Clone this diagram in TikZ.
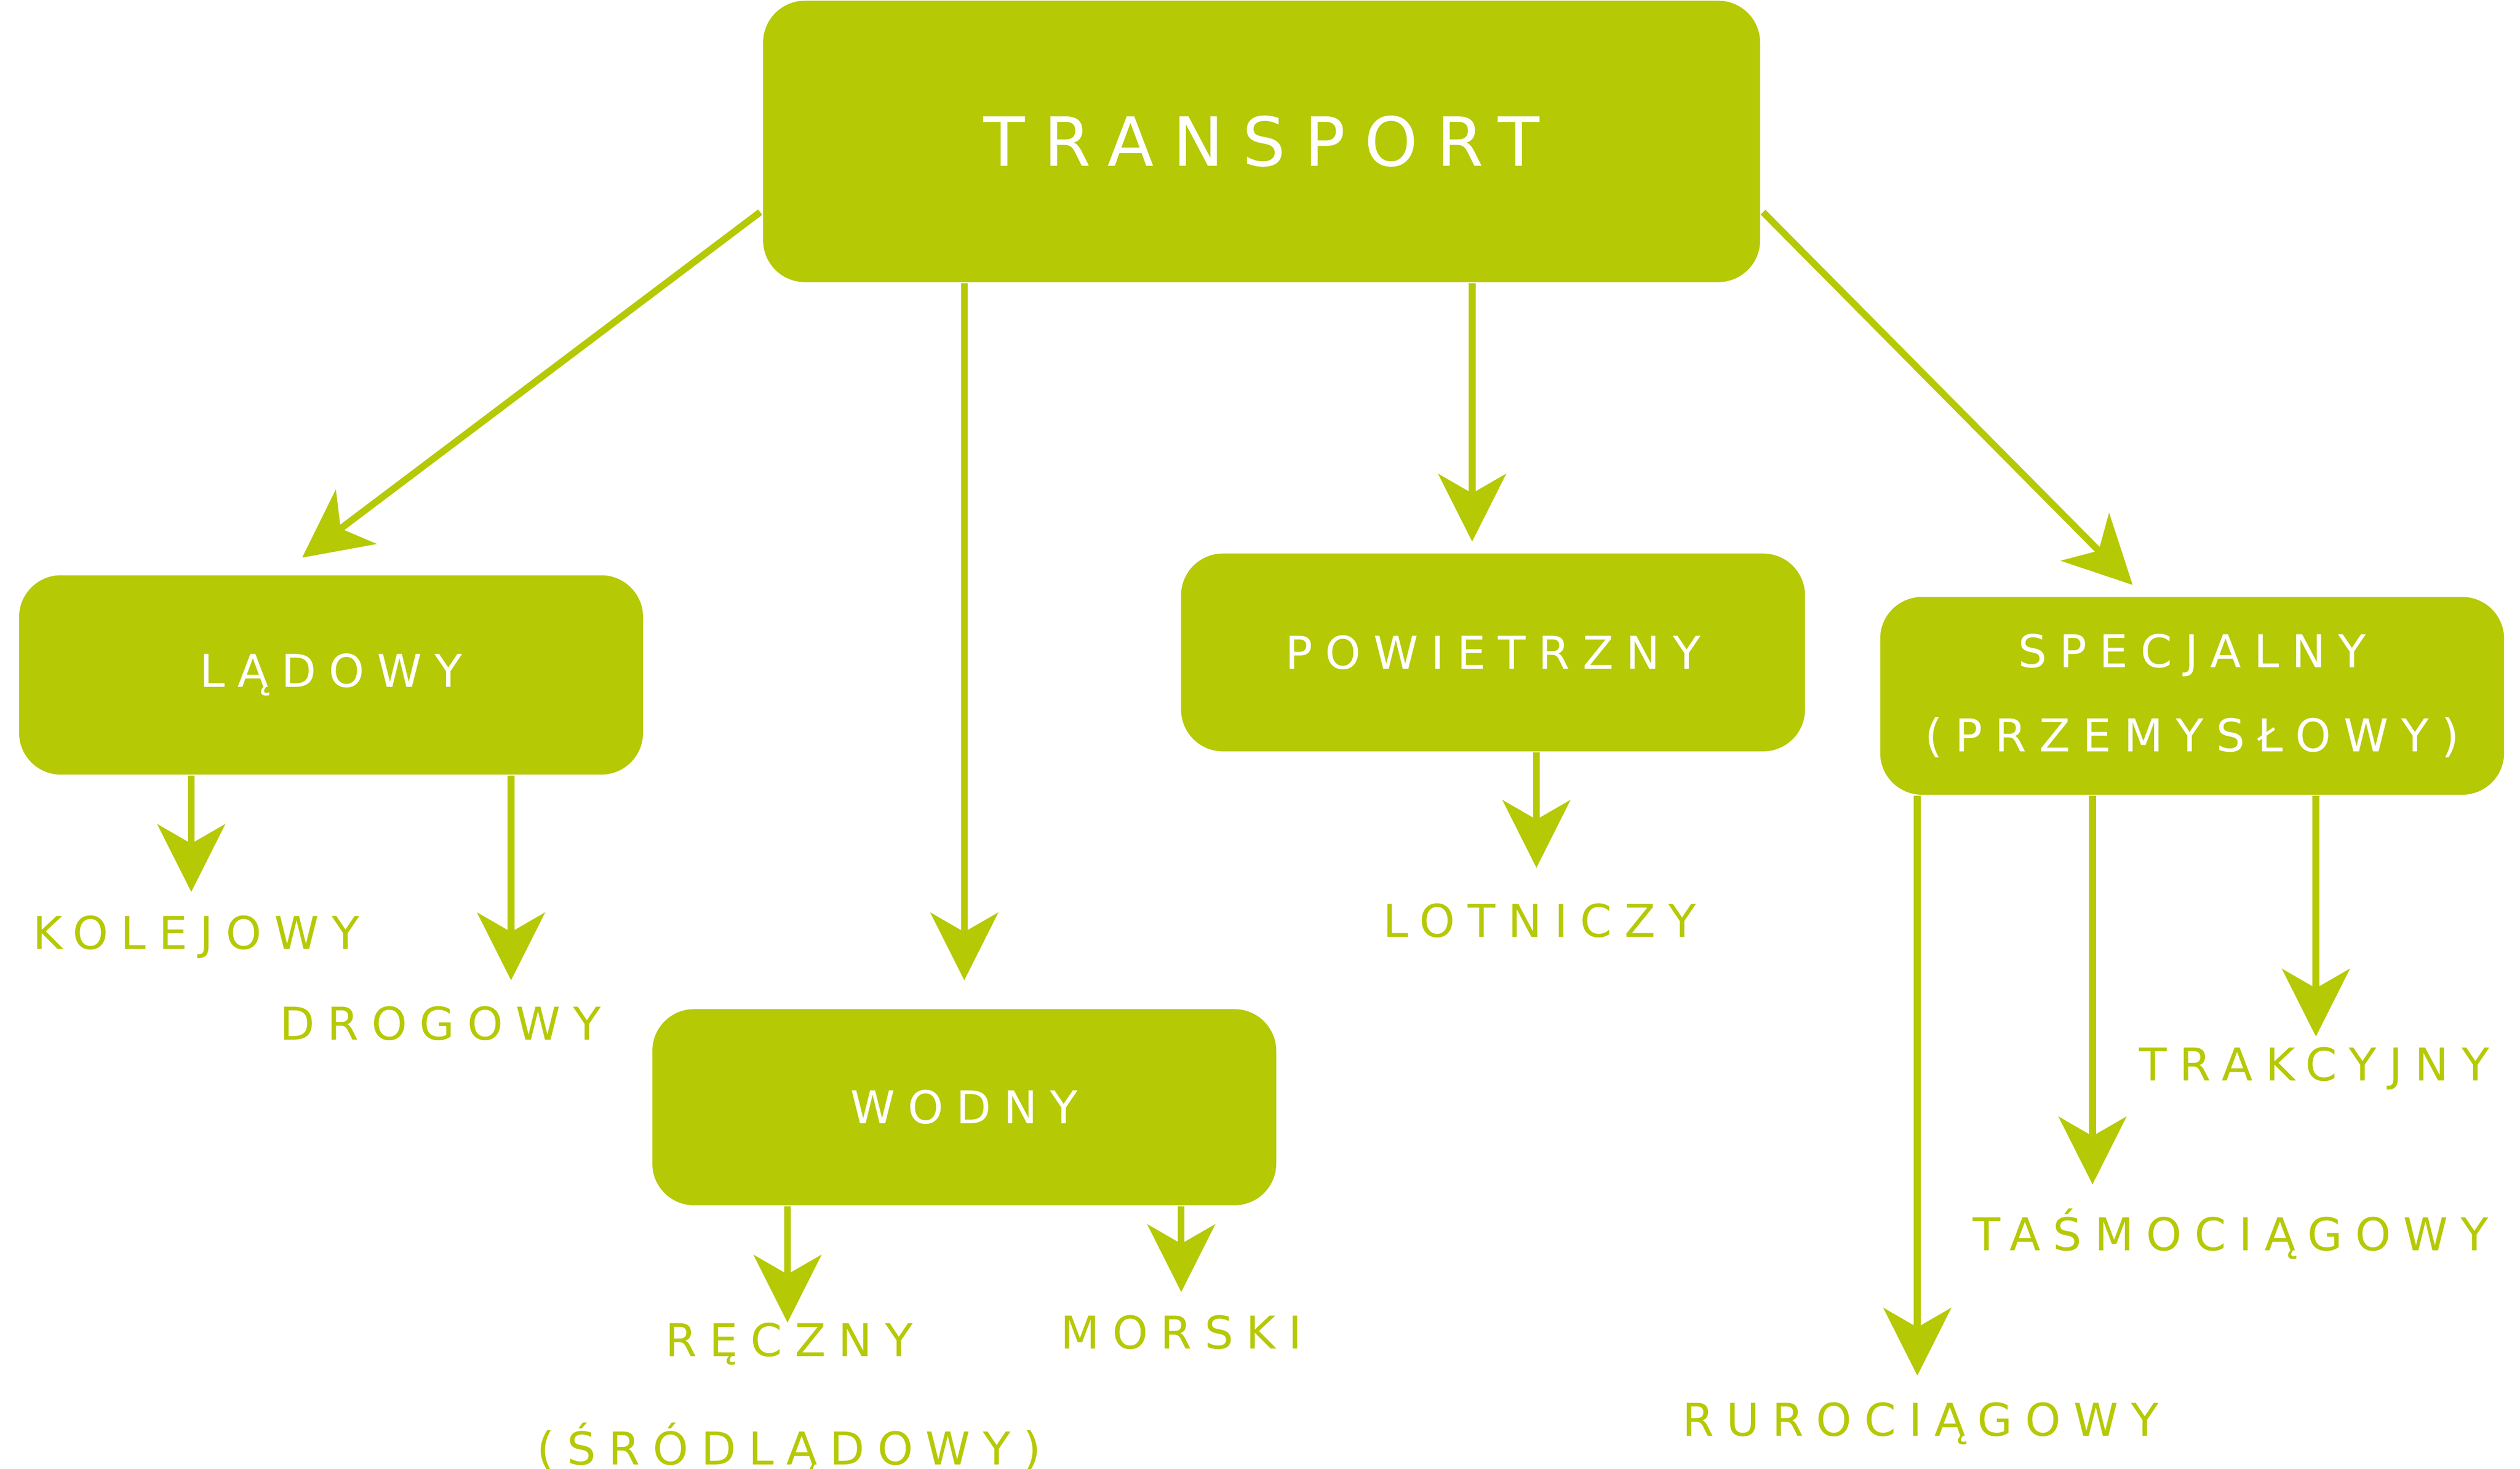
\documentclass[tikz,border=0pt]{standalone}
\usepackage{fontspec}
\newfontfamily\widefont[LetterSpace=28]{DejaVu Sans}
\usetikzlibrary{arrows.meta,positioning}
\definecolor{lime}{HTML}{B5C905}
\begin{document}
\begin{tikzpicture}[x=0.01cm,y=-0.01cm,
    >={Stealth[length=4.2mm,width=4.2mm,inset=1.2mm]},
    arr/.style={->,draw=lime,line width=1.2pt,fill=lime},
    box/.style={rectangle,fill=lime,rounded corners=2.6mm,text=white,
        font=\widefont\fontsize{8}{12}\selectfont,align=center,inner sep=0pt},
    leaf/.style={text=lime,font=\widefont\fontsize{8}{12}\selectfont,align=center,inner sep=0pt}
  ]
    \useasboundingbox (0,0) rectangle (1568,914);
    % boxes
    \node[box,minimum width=6.2cm,minimum height=1.75cm,font=\widefont\fontsize{12}{14}\selectfont]
        (transport) at (785,88) {TRANSPORT};
    \node[box,minimum width=3.88cm,minimum height=1.24cm] (ladowy) at (206,420) {LĄDOWY};
    \node[box,minimum width=3.88cm,minimum height=1.22cm] (wodny) at (600,689) {WODNY};
    \node[box,minimum width=3.88cm,minimum height=1.23cm] (powietrzny) at (929,406) {POWIETRZNY};
    \node[box,minimum width=3.88cm,minimum height=1.23cm] (specjalny) at (1364,433)
        {SPECJALNY\\[1mm](PRZEMYSŁOWY)};
    % leaves
    \node[leaf] (kolejowy) at (122,583) {KOLEJOWY};
    \node[leaf] (drogowy) at (274,637) {DROGOWY};
    \node[leaf] (lotniczy) at (958,573) {LOTNICZY};
    \node[leaf] (reczny) at (491,870) {RĘCZNY\\[2.5mm](ŚRÓDLĄDOWY)};
    \node[leaf] (morski) at (735,829) {MORSKI};
    \node[leaf] (trakcyjny) at (1440,665) {TRAKCYJNY};
    \node[leaf] (tasmo) at (1388,768) {TAŚMOCIĄGOWY};
    \node[leaf] (ruro) at (1195,886) {RUROCIĄGOWY};
    % arrow tips
    \coordinate (tL) at (188,347);
    \coordinate (tW) at (600,610);
    \coordinate (tP) at (916,337);
    \coordinate (tS) at (1327,364);
    % arrows
    \draw[arr] (473,132) -- (tL);
    \draw[arr] (transport.south -| tW) -- (tW);
    \draw[arr] (transport.south -| tP) -- (tP);
    \draw[arr] (1097,132) -- (tS);
    \draw[arr] (ladowy.south -| 119,0) -- (119,555);
    \draw[arr] (ladowy.south -| 318,0) -- (318,610);
    \draw[arr] (powietrzny.south -| 956,0) -- (956,540);
    \draw[arr] (wodny.south -| 490,0) -- (490,823);
    \draw[arr] (wodny.south -| 735,0) -- (735,804);
    \draw[arr] (specjalny.south -| 1193,0) -- (1193,856);
    \draw[arr] (specjalny.south -| 1302,0) -- (1302,737);
    \draw[arr] (specjalny.south -| 1441,0) -- (1441,645);
\end{tikzpicture}
\end{document}
